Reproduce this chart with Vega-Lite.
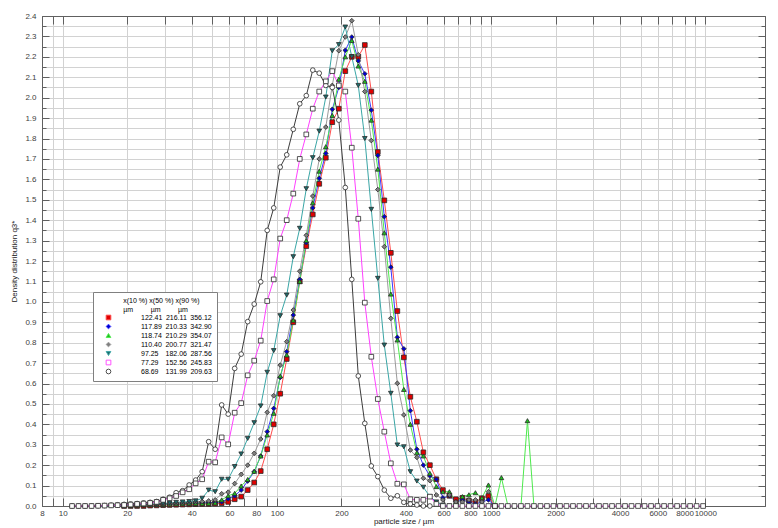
{
"$schema": "https://vega.github.io/schema/vega-lite/v6.json",
"width": 723, "height": 490,
"autosize": {"type": "none"},
"padding": {"left": 42, "top": 16, "right": 13, "bottom": 22},
"background": "white",
"config": {
 "font": "Liberation Sans",
 "view": {"stroke": "#606060", "strokeWidth": 1},
 "axis": {"labelFont": "Liberation Sans", "labelFontSize": 8, "labelColor": "#404040", "titleFont": "Liberation Sans", "titleFontSize": 8, "titleFontWeight": "normal", "titleColor": "#202020", "domainColor": "#606060", "tickColor": "#606060", "gridColor": "#d2d2d2", "gridWidth": 1, "labelOverlap": false, "labelFlush": false},
 "legend": {"titleFont": "Liberation Sans", "titleFontSize": 7, "titleFontWeight": "normal", "titleColor": "#000000", "titleLineHeight": 9, "titlePadding": 1, "labelFont": "Liberation Sans", "labelFontSize": 7, "labelColor": "#000000", "labelAlign": "left", "labelLimit": 300, "symbolSize": 22, "symbolStrokeWidth": 0.9, "rowPadding": 0, "padding": 5, "fillColor": "#ffffff", "strokeColor": "#808080", "labelOffset": 29, "symbolOffset": 7}
},
"data": {"values": [
{"s":"1","x":19.34,"y":0},{"s":"1","x":20.74,"y":0},{"s":"1","x":22.24,"y":0},{"s":"1","x":23.85,"y":0},{"s":"1","x":25.58,"y":0.002},{"s":"1","x":27.43,"y":0.003},{"s":"1","x":29.42,"y":0.004},{"s":"1","x":31.55,"y":0.005},{"s":"1","x":33.83,"y":0.006},{"s":"1","x":36.28,"y":0.007},{"s":"1","x":38.92,"y":0.008},{"s":"1","x":41.74,"y":0.009},{"s":"1","x":44.76,"y":0.01},{"s":"1","x":48.0,"y":0.01},{"s":"1","x":51.48,"y":0.012},{"s":"1","x":55.21,"y":0.014},{"s":"1","x":59.21,"y":0.02},{"s":"1","x":63.5,"y":0.033},{"s":"1","x":68.1,"y":0.046},{"s":"1","x":73.03,"y":0.078},{"s":"1","x":78.32,"y":0.115},{"s":"1","x":84.0,"y":0.171},{"s":"1","x":90.08,"y":0.278},{"s":"1","x":96.61,"y":0.4},{"s":"1","x":103.6,"y":0.55},{"s":"1","x":111.1,"y":0.72},{"s":"1","x":119.2,"y":0.9},{"s":"1","x":127.8,"y":1.1},{"s":"1","x":137.1,"y":1.273},{"s":"1","x":147.0,"y":1.428},{"s":"1","x":157.6,"y":1.578},{"s":"1","x":169.1,"y":1.706},{"s":"1","x":181.3,"y":1.88},{"s":"1","x":194.5,"y":1.946},{"s":"1","x":208.5,"y":2.13},{"s":"1","x":223.6,"y":2.2},{"s":"1","x":239.8,"y":2.2},{"s":"1","x":257.2,"y":2.258},{"s":"1","x":275.8,"y":2.03},{"s":"1","x":295.8,"y":1.734},{"s":"1","x":317.2,"y":1.497},{"s":"1","x":340.2,"y":1.24},{"s":"1","x":364.9,"y":0.955},{"s":"1","x":391.3,"y":0.728},{"s":"1","x":419.7,"y":0.535},{"s":"1","x":450.1,"y":0.413},{"s":"1","x":482.7,"y":0.263},{"s":"1","x":517.7,"y":0.2},{"s":"1","x":555.2,"y":0.131},{"s":"1","x":595.5,"y":0.078},{"s":"1","x":638.6,"y":0.05},{"s":"1","x":684.9,"y":0.033},{"s":"1","x":734.5,"y":0.04},{"s":"1","x":787.7,"y":0.026},{"s":"1","x":844.8,"y":0.02},{"s":"1","x":906.0,"y":0.038},{"s":"1","x":971.6,"y":0.049},{"s":"1","x":1042,"y":0},
{"s":"2","x":19.34,"y":0.002},{"s":"2","x":20.74,"y":0.003},{"s":"2","x":22.24,"y":0.004},{"s":"2","x":23.85,"y":0.005},{"s":"2","x":25.58,"y":0.006},{"s":"2","x":27.43,"y":0.007},{"s":"2","x":29.42,"y":0.008},{"s":"2","x":31.55,"y":0.009},{"s":"2","x":33.83,"y":0.01},{"s":"2","x":36.28,"y":0.012},{"s":"2","x":38.92,"y":0.013},{"s":"2","x":41.74,"y":0.014},{"s":"2","x":44.76,"y":0.015},{"s":"2","x":48.0,"y":0.016},{"s":"2","x":51.48,"y":0.017},{"s":"2","x":55.21,"y":0.02},{"s":"2","x":59.21,"y":0.035},{"s":"2","x":63.5,"y":0.05},{"s":"2","x":68.1,"y":0.078},{"s":"2","x":73.03,"y":0.122},{"s":"2","x":78.32,"y":0.168},{"s":"2","x":84.0,"y":0.245},{"s":"2","x":90.08,"y":0.364},{"s":"2","x":96.61,"y":0.478},{"s":"2","x":103.6,"y":0.63},{"s":"2","x":111.1,"y":0.756},{"s":"2","x":119.2,"y":0.935},{"s":"2","x":127.8,"y":1.11},{"s":"2","x":137.1,"y":1.29},{"s":"2","x":147.0,"y":1.46},{"s":"2","x":157.6,"y":1.605},{"s":"2","x":169.1,"y":1.727},{"s":"2","x":181.3,"y":1.943},{"s":"2","x":194.5,"y":2.05},{"s":"2","x":208.5,"y":2.232},{"s":"2","x":223.6,"y":2.297},{"s":"2","x":239.8,"y":2.18},{"s":"2","x":257.2,"y":2.117},{"s":"2","x":275.8,"y":1.939},{"s":"2","x":295.8,"y":1.717},{"s":"2","x":317.2,"y":1.417},{"s":"2","x":340.2,"y":1.17},{"s":"2","x":364.9,"y":0.826},{"s":"2","x":391.3,"y":0.77},{"s":"2","x":419.7,"y":0.467},{"s":"2","x":450.1,"y":0.278},{"s":"2","x":482.7,"y":0.2},{"s":"2","x":517.7,"y":0.147},{"s":"2","x":555.2,"y":0.131},{"s":"2","x":595.5,"y":0.04},{"s":"2","x":638.6,"y":0.05},{"s":"2","x":684.9,"y":0.02},{"s":"2","x":734.5,"y":0.03},{"s":"2","x":787.7,"y":0.02},{"s":"2","x":844.8,"y":0.01},{"s":"2","x":906.0,"y":0.02},{"s":"2","x":971.6,"y":0.03},{"s":"2","x":1042,"y":0},
{"s":"3","x":19.34,"y":0.002},{"s":"3","x":20.74,"y":0.003},{"s":"3","x":22.24,"y":0.004},{"s":"3","x":23.85,"y":0.005},{"s":"3","x":25.58,"y":0.006},{"s":"3","x":27.43,"y":0.007},{"s":"3","x":29.42,"y":0.008},{"s":"3","x":31.55,"y":0.009},{"s":"3","x":33.83,"y":0.01},{"s":"3","x":36.28,"y":0.011},{"s":"3","x":38.92,"y":0.012},{"s":"3","x":41.74,"y":0.012},{"s":"3","x":44.76,"y":0.013},{"s":"3","x":48.0,"y":0.013},{"s":"3","x":51.48,"y":0.015},{"s":"3","x":55.21,"y":0.03},{"s":"3","x":59.21,"y":0.05},{"s":"3","x":63.5,"y":0.062},{"s":"3","x":68.1,"y":0.098},{"s":"3","x":73.03,"y":0.13},{"s":"3","x":78.32,"y":0.17},{"s":"3","x":84.0,"y":0.245},{"s":"3","x":90.08,"y":0.348},{"s":"3","x":96.61,"y":0.454},{"s":"3","x":103.6,"y":0.637},{"s":"3","x":111.1,"y":0.74},{"s":"3","x":119.2,"y":0.91},{"s":"3","x":127.8,"y":1.1},{"s":"3","x":137.1,"y":1.3},{"s":"3","x":147.0,"y":1.485},{"s":"3","x":157.6,"y":1.64},{"s":"3","x":169.1,"y":1.76},{"s":"3","x":181.3,"y":1.913},{"s":"3","x":194.5,"y":2.09},{"s":"3","x":208.5,"y":2.2},{"s":"3","x":223.6,"y":2.28},{"s":"3","x":239.8,"y":2.155},{"s":"3","x":257.2,"y":2.08},{"s":"3","x":275.8,"y":1.89},{"s":"3","x":295.8,"y":1.65},{"s":"3","x":317.2,"y":1.338},{"s":"3","x":340.2,"y":1.038},{"s":"3","x":364.9,"y":0.813},{"s":"3","x":391.3,"y":0.571},{"s":"3","x":419.7,"y":0.4},{"s":"3","x":450.1,"y":0.261},{"s":"3","x":482.7,"y":0.245},{"s":"3","x":517.7,"y":0.16},{"s":"3","x":555.2,"y":0.095},{"s":"3","x":595.5,"y":0.07},{"s":"3","x":638.6,"y":0.07},{"s":"3","x":684.9,"y":0.02},{"s":"3","x":734.5,"y":0.046},{"s":"3","x":787.7,"y":0.055},{"s":"3","x":844.8,"y":0.065},{"s":"3","x":906.0,"y":0.04},{"s":"3","x":971.6,"y":0.103},{"s":"3","x":1042,"y":0},{"s":"3","x":1117,"y":0.139},{"s":"3","x":1198,"y":0},{"s":"3","x":1285,"y":0},{"s":"3","x":1378,"y":0},{"s":"3","x":1478,"y":0.418},{"s":"3","x":1585,"y":0},{"s":"3","x":1700,"y":0},
{"s":"4","x":19.34,"y":0.003},{"s":"4","x":20.74,"y":0.004},{"s":"4","x":22.24,"y":0.005},{"s":"4","x":23.85,"y":0.006},{"s":"4","x":25.58,"y":0.007},{"s":"4","x":27.43,"y":0.008},{"s":"4","x":29.42,"y":0.01},{"s":"4","x":31.55,"y":0.012},{"s":"4","x":33.83,"y":0.014},{"s":"4","x":36.28,"y":0.016},{"s":"4","x":38.92,"y":0.018},{"s":"4","x":41.74,"y":0.02},{"s":"4","x":44.76,"y":0.022},{"s":"4","x":48.0,"y":0.025},{"s":"4","x":51.48,"y":0.03},{"s":"4","x":55.21,"y":0.06},{"s":"4","x":59.21,"y":0.068},{"s":"4","x":63.5,"y":0.11},{"s":"4","x":68.1,"y":0.155},{"s":"4","x":73.03,"y":0.2},{"s":"4","x":78.32,"y":0.258},{"s":"4","x":84.0,"y":0.328},{"s":"4","x":90.08,"y":0.459},{"s":"4","x":96.61,"y":0.54},{"s":"4","x":103.6,"y":0.69},{"s":"4","x":111.1,"y":0.805},{"s":"4","x":119.2,"y":0.96},{"s":"4","x":127.8,"y":1.15},{"s":"4","x":137.1,"y":1.326},{"s":"4","x":147.0,"y":1.518},{"s":"4","x":157.6,"y":1.7},{"s":"4","x":169.1,"y":1.856},{"s":"4","x":181.3,"y":2.06},{"s":"4","x":194.5,"y":2.23},{"s":"4","x":208.5,"y":2.297},{"s":"4","x":223.6,"y":2.377},{"s":"4","x":239.8,"y":2.21},{"s":"4","x":257.2,"y":2.03},{"s":"4","x":275.8,"y":1.79},{"s":"4","x":295.8,"y":1.55},{"s":"4","x":317.2,"y":1.27},{"s":"4","x":340.2,"y":0.919},{"s":"4","x":364.9,"y":0.601},{"s":"4","x":391.3,"y":0.446},{"s":"4","x":419.7,"y":0.274},{"s":"4","x":450.1,"y":0.238},{"s":"4","x":482.7,"y":0.136},{"s":"4","x":517.7,"y":0.124},{"s":"4","x":555.2,"y":0.054},{"s":"4","x":595.5,"y":0.03},{"s":"4","x":638.6,"y":0.054},{"s":"4","x":684.9,"y":0.02},{"s":"4","x":734.5,"y":0.02},{"s":"4","x":787.7,"y":0.03},{"s":"4","x":844.8,"y":0.03},{"s":"4","x":906.0,"y":0.02},{"s":"4","x":971.6,"y":0.07},{"s":"4","x":1042,"y":0},
{"s":"5","x":14.62,"y":0},{"s":"5","x":15.68,"y":0},{"s":"5","x":16.82,"y":0.001},{"s":"5","x":18.03,"y":0.002},{"s":"5","x":19.34,"y":0.003},{"s":"5","x":20.74,"y":0.004},{"s":"5","x":22.24,"y":0.005},{"s":"5","x":23.85,"y":0.006},{"s":"5","x":25.58,"y":0.008},{"s":"5","x":27.43,"y":0.01},{"s":"5","x":29.42,"y":0.012},{"s":"5","x":31.55,"y":0.015},{"s":"5","x":33.83,"y":0.018},{"s":"5","x":36.28,"y":0.02},{"s":"5","x":38.92,"y":0.022},{"s":"5","x":41.74,"y":0.025},{"s":"5","x":44.76,"y":0.038},{"s":"5","x":48.0,"y":0.078},{"s":"5","x":51.48,"y":0.07},{"s":"5","x":55.21,"y":0.131},{"s":"5","x":59.21,"y":0.131},{"s":"5","x":63.5,"y":0.193},{"s":"5","x":68.1,"y":0.255},{"s":"5","x":73.03,"y":0.331},{"s":"5","x":78.32,"y":0.408},{"s":"5","x":84.0,"y":0.49},{"s":"5","x":90.08,"y":0.655},{"s":"5","x":96.61,"y":0.761},{"s":"5","x":103.6,"y":0.932},{"s":"5","x":111.1,"y":1.033},{"s":"5","x":119.2,"y":1.221},{"s":"5","x":127.8,"y":1.36},{"s":"5","x":137.1,"y":1.554},{"s":"5","x":147.0,"y":1.706},{"s":"5","x":157.6,"y":1.836},{"s":"5","x":169.1,"y":2.003},{"s":"5","x":181.3,"y":2.23},{"s":"5","x":194.5,"y":2.26},{"s":"5","x":208.5,"y":2.346},{"s":"5","x":223.6,"y":2.2},{"s":"5","x":239.8,"y":2.06},{"s":"5","x":257.2,"y":1.8},{"s":"5","x":275.8,"y":1.453},{"s":"5","x":295.8,"y":1.115},{"s":"5","x":317.2,"y":0.788},{"s":"5","x":340.2,"y":0.552},{"s":"5","x":364.9,"y":0.299},{"s":"5","x":391.3,"y":0.29},{"s":"5","x":419.7,"y":0.168},{"s":"5","x":450.1,"y":0.122},{"s":"5","x":482.7,"y":0.092},{"s":"5","x":517.7,"y":0.046},{"s":"5","x":555.2,"y":0.02},{"s":"5","x":595.5,"y":0.005},{"s":"5","x":638.6,"y":0},
{"s":"7","x":11.05,"y":0},{"s":"7","x":11.85,"y":0},{"s":"7","x":12.71,"y":0},{"s":"7","x":13.63,"y":0},{"s":"7","x":14.62,"y":0.001},{"s":"7","x":15.68,"y":0.002},{"s":"7","x":16.82,"y":0.004},{"s":"7","x":18.03,"y":0.006},{"s":"7","x":19.34,"y":0.008},{"s":"7","x":20.74,"y":0.01},{"s":"7","x":22.24,"y":0.012},{"s":"7","x":23.85,"y":0.015},{"s":"7","x":25.58,"y":0.018},{"s":"7","x":27.43,"y":0.022},{"s":"7","x":29.42,"y":0.033},{"s":"7","x":31.55,"y":0.043},{"s":"7","x":33.83,"y":0.065},{"s":"7","x":36.28,"y":0.075},{"s":"7","x":38.92,"y":0.103},{"s":"7","x":41.74,"y":0.127},{"s":"7","x":44.76,"y":0.168},{"s":"7","x":48.0,"y":0.315},{"s":"7","x":51.48,"y":0.278},{"s":"7","x":55.21,"y":0.495},{"s":"7","x":59.21,"y":0.45},{"s":"7","x":63.5,"y":0.674},{"s":"7","x":68.1,"y":0.744},{"s":"7","x":73.03,"y":0.903},{"s":"7","x":78.32,"y":0.989},{"s":"7","x":84.0,"y":1.098},{"s":"7","x":90.08,"y":1.35},{"s":"7","x":96.61,"y":1.46},{"s":"7","x":103.6,"y":1.66},{"s":"7","x":111.1,"y":1.72},{"s":"7","x":119.2,"y":1.845},{"s":"7","x":127.8,"y":1.97},{"s":"7","x":137.1,"y":2.01},{"s":"7","x":147.0,"y":2.135},{"s":"7","x":157.6,"y":2.12},{"s":"7","x":169.1,"y":2.06},{"s":"7","x":181.3,"y":2.05},{"s":"7","x":194.5,"y":1.89},{"s":"7","x":208.5,"y":1.56},{"s":"7","x":223.6,"y":1.11},{"s":"7","x":239.8,"y":0.637},{"s":"7","x":257.2,"y":0.405},{"s":"7","x":275.8,"y":0.196},{"s":"7","x":295.8,"y":0.144},{"s":"7","x":317.2,"y":0.078},{"s":"7","x":340.2,"y":0.038},{"s":"7","x":364.9,"y":0.05},{"s":"7","x":391.3,"y":0.018},{"s":"7","x":419.7,"y":0.01},{"s":"7","x":450.1,"y":0.005},{"s":"7","x":482.7,"y":0},{"s":"7","x":517.7,"y":0},
{"s":"6","x":11.05,"y":0},{"s":"6","x":11.85,"y":0},{"s":"6","x":12.71,"y":0},{"s":"6","x":13.63,"y":0},{"s":"6","x":14.62,"y":0.001},{"s":"6","x":15.68,"y":0.002},{"s":"6","x":16.82,"y":0.003},{"s":"6","x":18.03,"y":0.004},{"s":"6","x":19.34,"y":0.005},{"s":"6","x":20.74,"y":0.007},{"s":"6","x":22.24,"y":0.01},{"s":"6","x":23.85,"y":0.012},{"s":"6","x":25.58,"y":0.015},{"s":"6","x":27.43,"y":0.02},{"s":"6","x":29.42,"y":0.03},{"s":"6","x":31.55,"y":0.038},{"s":"6","x":33.83,"y":0.049},{"s":"6","x":36.28,"y":0.067},{"s":"6","x":38.92,"y":0.082},{"s":"6","x":41.74,"y":0.111},{"s":"6","x":44.76,"y":0.131},{"s":"6","x":48.0,"y":0.217},{"s":"6","x":51.48,"y":0.214},{"s":"6","x":55.21,"y":0.336},{"s":"6","x":59.21,"y":0.302},{"s":"6","x":63.5,"y":0.457},{"s":"6","x":68.1,"y":0.504},{"s":"6","x":73.03,"y":0.64},{"s":"6","x":78.32,"y":0.712},{"s":"6","x":84.0,"y":0.81},{"s":"6","x":90.08,"y":1.004},{"s":"6","x":96.61,"y":1.11},{"s":"6","x":103.6,"y":1.31},{"s":"6","x":111.1,"y":1.4},{"s":"6","x":119.2,"y":1.53},{"s":"6","x":127.8,"y":1.7},{"s":"6","x":137.1,"y":1.82},{"s":"6","x":147.0,"y":1.946},{"s":"6","x":157.6,"y":2.03},{"s":"6","x":169.1,"y":2.08},{"s":"6","x":181.3,"y":2.13},{"s":"6","x":194.5,"y":2.06},{"s":"6","x":208.5,"y":2.03},{"s":"6","x":223.6,"y":1.755},{"s":"6","x":239.8,"y":1.407},{"s":"6","x":257.2,"y":0.996},{"s":"6","x":275.8,"y":0.731},{"s":"6","x":295.8,"y":0.524},{"s":"6","x":317.2,"y":0.364},{"s":"6","x":340.2,"y":0.209},{"s":"6","x":364.9,"y":0.109},{"s":"6","x":391.3,"y":0.106},{"s":"6","x":419.7,"y":0.033},{"s":"6","x":450.1,"y":0.03},{"s":"6","x":482.7,"y":0.03},{"s":"6","x":517.7,"y":0.046},{"s":"6","x":555.2,"y":0.01},{"s":"6","x":595.5,"y":0},{"s":"6","x":638.6,"y":0},{"s":"6","x":684.9,"y":0},{"s":"6","x":734.5,"y":0},{"s":"6","x":787.7,"y":0},{"s":"6","x":844.8,"y":0},{"s":"6","x":906.0,"y":0},{"s":"6","x":971.6,"y":0},{"s":"6","x":1042,"y":0},{"s":"6","x":1117,"y":0},{"s":"6","x":1198,"y":0},{"s":"6","x":1285,"y":0},{"s":"6","x":1378,"y":0},{"s":"6","x":1478,"y":0},{"s":"6","x":1585,"y":0},{"s":"6","x":1700,"y":0},{"s":"6","x":1823,"y":0},{"s":"6","x":1955,"y":0},{"s":"6","x":2097,"y":0},{"s":"6","x":2248,"y":0},{"s":"6","x":2411,"y":0},{"s":"6","x":2586,"y":0},{"s":"6","x":2773,"y":0},{"s":"6","x":2974,"y":0},{"s":"6","x":3189,"y":0},{"s":"6","x":3420,"y":0},{"s":"6","x":3668,"y":0},{"s":"6","x":3934,"y":0},{"s":"6","x":4219,"y":0},{"s":"6","x":4524,"y":0},{"s":"6","x":4853,"y":0},{"s":"6","x":5204,"y":0},{"s":"6","x":5581,"y":0},{"s":"6","x":5985,"y":0},{"s":"6","x":6419,"y":0},{"s":"6","x":6884,"y":0},{"s":"6","x":7383,"y":0},{"s":"6","x":7917,"y":0},{"s":"6","x":8491,"y":0},{"s":"6","x":9106,"y":0},{"s":"6","x":9767,"y":0}
]},
"layer": [
 {
  "mark": {"type": "line", "strokeWidth": 1, "interpolate": "linear"},
  "encoding": {
   "x": {"field": "x", "type": "quantitative", "scale": {"type": "log", "domain": [8, 19000], "nice": false, "zero": false},
     "axis": {"orient": "top", "labels": false, "grid": false, "title": null, "tickSize": -8, "values": [8,9,10,20,30,40,50,60,70,80,90,100,200,300,400,500,600,700,800,900,1000,2000,3000,4000,5000,6000,7000,8000,9000,10000]}},
   "y": {"field": "y", "type": "quantitative", "scale": {"domain": [0, 2.4], "nice": false, "zero": false},
     "axis": {"orient": "right", "labels": false, "grid": false, "title": null, "values": [0,0.05,0.1,0.15,0.2,0.25,0.3,0.35,0.4,0.45,0.5,0.55,0.6,0.65,0.7,0.75,0.8,0.85,0.9,0.95,1,1.05,1.1,1.15,1.2,1.25,1.3,1.35,1.4,1.45,1.5,1.55,1.6,1.65,1.7,1.75,1.8,1.85,1.9,1.95,2,2.05,2.1,2.15,2.2,2.25,2.3,2.35,2.4], "tickSize": {"condition": {"test": "round(datum.value*20)%2==0", "value": -7}, "value": -4}}},
   "color": {"field": "s", "type": "nominal", "scale": {"domain": ["1","2","3","4","5","6","7"], "range": ["#ff4d4d","#3a3aff","#4dea4d","#9a9a9a","#3aa6a6","#ff40ff","#3c3c3c"]},
     "legend": {"orient": "none", "legendX": 51, "legendY": 276, "labelAlign": "left", "title": ["\u200b\u00a0\u00a0\u00a0\u00a0\u00a0\u00a0\u00a0\u00a0\u00a0\u00a0\u00a0\u00a0\u00a0x(10 %)\u00a0x(50 %)\u00a0x(90 %)", "\u200b\u00a0\u00a0\u00a0\u00a0\u00a0\u00a0\u00a0\u00a0\u00a0\u00a0\u00a0\u00a0\u00a0µm\u00a0\u00a0\u00a0\u00a0\u00a0\u00a0\u00a0\u00a0\u00a0µm\u00a0\u00a0\u00a0\u00a0\u00a0\u00a0\u00a0\u00a0\u00a0µm"], "labelExpr": "datum.value=='1' ? '122.41\u2002216.11\u2002356.12' : datum.value=='2' ? '117.89\u2002210.33\u2002342.90' : datum.value=='3' ? '118.74\u2002210.29\u2002354.07' : datum.value=='4' ? '110.40\u2002200.77\u2002321.47' : datum.value=='5' ? '97.25\u2002\u2002182.06\u2002287.56' : datum.value=='6' ? '77.29\u2002\u2002152.56\u2002245.83' : '68.69\u2002\u2002131.99\u2002209.63'"}}
  }
 },
 {
  "mark": {"type": "point", "filled": true, "size": 22, "strokeWidth": 0.8, "opacity": 1, "stroke": "#2a2a2a"},
  "encoding": {
   "x": {"field": "x", "type": "quantitative", "scale": {"type": "log", "domain": [8, 19000], "nice": false, "zero": false},
     "axis": {"orient": "bottom", "grid": true, "title": "particle size / µm", "titlePadding": 0, "tickSize": -8, "labelPadding": 11, "values": [8,9,10,20,30,40,50,60,70,80,90,100,200,300,400,500,600,700,800,900,1000,2000,3000,4000,5000,6000,7000,8000,9000,10000], "labelExpr": "indexof([8,10,20,40,60,80,100,200,400,600,800,1000,2000,4000,6000,8000,10000], datum.value) >= 0 ? '' + datum.value : ''"}},
   "y": {"field": "y", "type": "quantitative", "scale": {"domain": [0, 2.4], "nice": false, "zero": false},
     "axis": {"orient": "left", "grid": true, "title": "Density distribution q3*", "titlePadding": 6, "labelPadding": 13, "values": [0,0.05,0.1,0.15,0.2,0.25,0.3,0.35,0.4,0.45,0.5,0.55,0.6,0.65,0.7,0.75,0.8,0.85,0.9,0.95,1,1.05,1.1,1.15,1.2,1.25,1.3,1.35,1.4,1.45,1.5,1.55,1.6,1.65,1.7,1.75,1.8,1.85,1.9,1.95,2,2.05,2.1,2.15,2.2,2.25,2.3,2.35,2.4], "labelExpr": "round(datum.value*20)%2==0 ? format(datum.value, '.1f') : ''", "tickSize": {"condition": {"test": "round(datum.value*20)%2==0", "value": -7}, "value": -4}}},
   "shape": {"field": "s", "type": "nominal", "scale": {"domain": ["1","2","3","4","5","6","7"], "range": ["square","diamond","triangle-up","diamond","triangle-down","square","circle"]},
     "legend": {"orient": "none", "legendX": 51, "legendY": 276, "labelAlign": "left", "title": ["\u200b\u00a0\u00a0\u00a0\u00a0\u00a0\u00a0\u00a0\u00a0\u00a0\u00a0\u00a0\u00a0\u00a0x(10 %)\u00a0x(50 %)\u00a0x(90 %)", "\u200b\u00a0\u00a0\u00a0\u00a0\u00a0\u00a0\u00a0\u00a0\u00a0\u00a0\u00a0\u00a0\u00a0µm\u00a0\u00a0\u00a0\u00a0\u00a0\u00a0\u00a0\u00a0\u00a0µm\u00a0\u00a0\u00a0\u00a0\u00a0\u00a0\u00a0\u00a0\u00a0µm"], "labelExpr": "datum.value=='1' ? '122.41\u2002216.11\u2002356.12' : datum.value=='2' ? '117.89\u2002210.33\u2002342.90' : datum.value=='3' ? '118.74\u2002210.29\u2002354.07' : datum.value=='4' ? '110.40\u2002200.77\u2002321.47' : datum.value=='5' ? '97.25\u2002\u2002182.06\u2002287.56' : datum.value=='6' ? '77.29\u2002\u2002152.56\u2002245.83' : '68.69\u2002\u2002131.99\u2002209.63'"}},
   "fill": {"field": "s", "type": "nominal", "scale": {"domain": ["1","2","3","4","5","6","7"], "range": ["#e00000","#0000d0","#20c020","#808080","#1e6e6e","#ffffff","#ffffff"]},
     "legend": {"orient": "none", "legendX": 51, "legendY": 276, "labelAlign": "left", "title": ["\u200b\u00a0\u00a0\u00a0\u00a0\u00a0\u00a0\u00a0\u00a0\u00a0\u00a0\u00a0\u00a0\u00a0x(10 %)\u00a0x(50 %)\u00a0x(90 %)", "\u200b\u00a0\u00a0\u00a0\u00a0\u00a0\u00a0\u00a0\u00a0\u00a0\u00a0\u00a0\u00a0\u00a0µm\u00a0\u00a0\u00a0\u00a0\u00a0\u00a0\u00a0\u00a0\u00a0µm\u00a0\u00a0\u00a0\u00a0\u00a0\u00a0\u00a0\u00a0\u00a0µm"], "labelExpr": "datum.value=='1' ? '122.41\u2002216.11\u2002356.12' : datum.value=='2' ? '117.89\u2002210.33\u2002342.90' : datum.value=='3' ? '118.74\u2002210.29\u2002354.07' : datum.value=='4' ? '110.40\u2002200.77\u2002321.47' : datum.value=='5' ? '97.25\u2002\u2002182.06\u2002287.56' : datum.value=='6' ? '77.29\u2002\u2002152.56\u2002245.83' : '68.69\u2002\u2002131.99\u2002209.63'"}}
  }
 }
],
"resolve": {"axis": {"x": "independent", "y": "independent"}}
}
